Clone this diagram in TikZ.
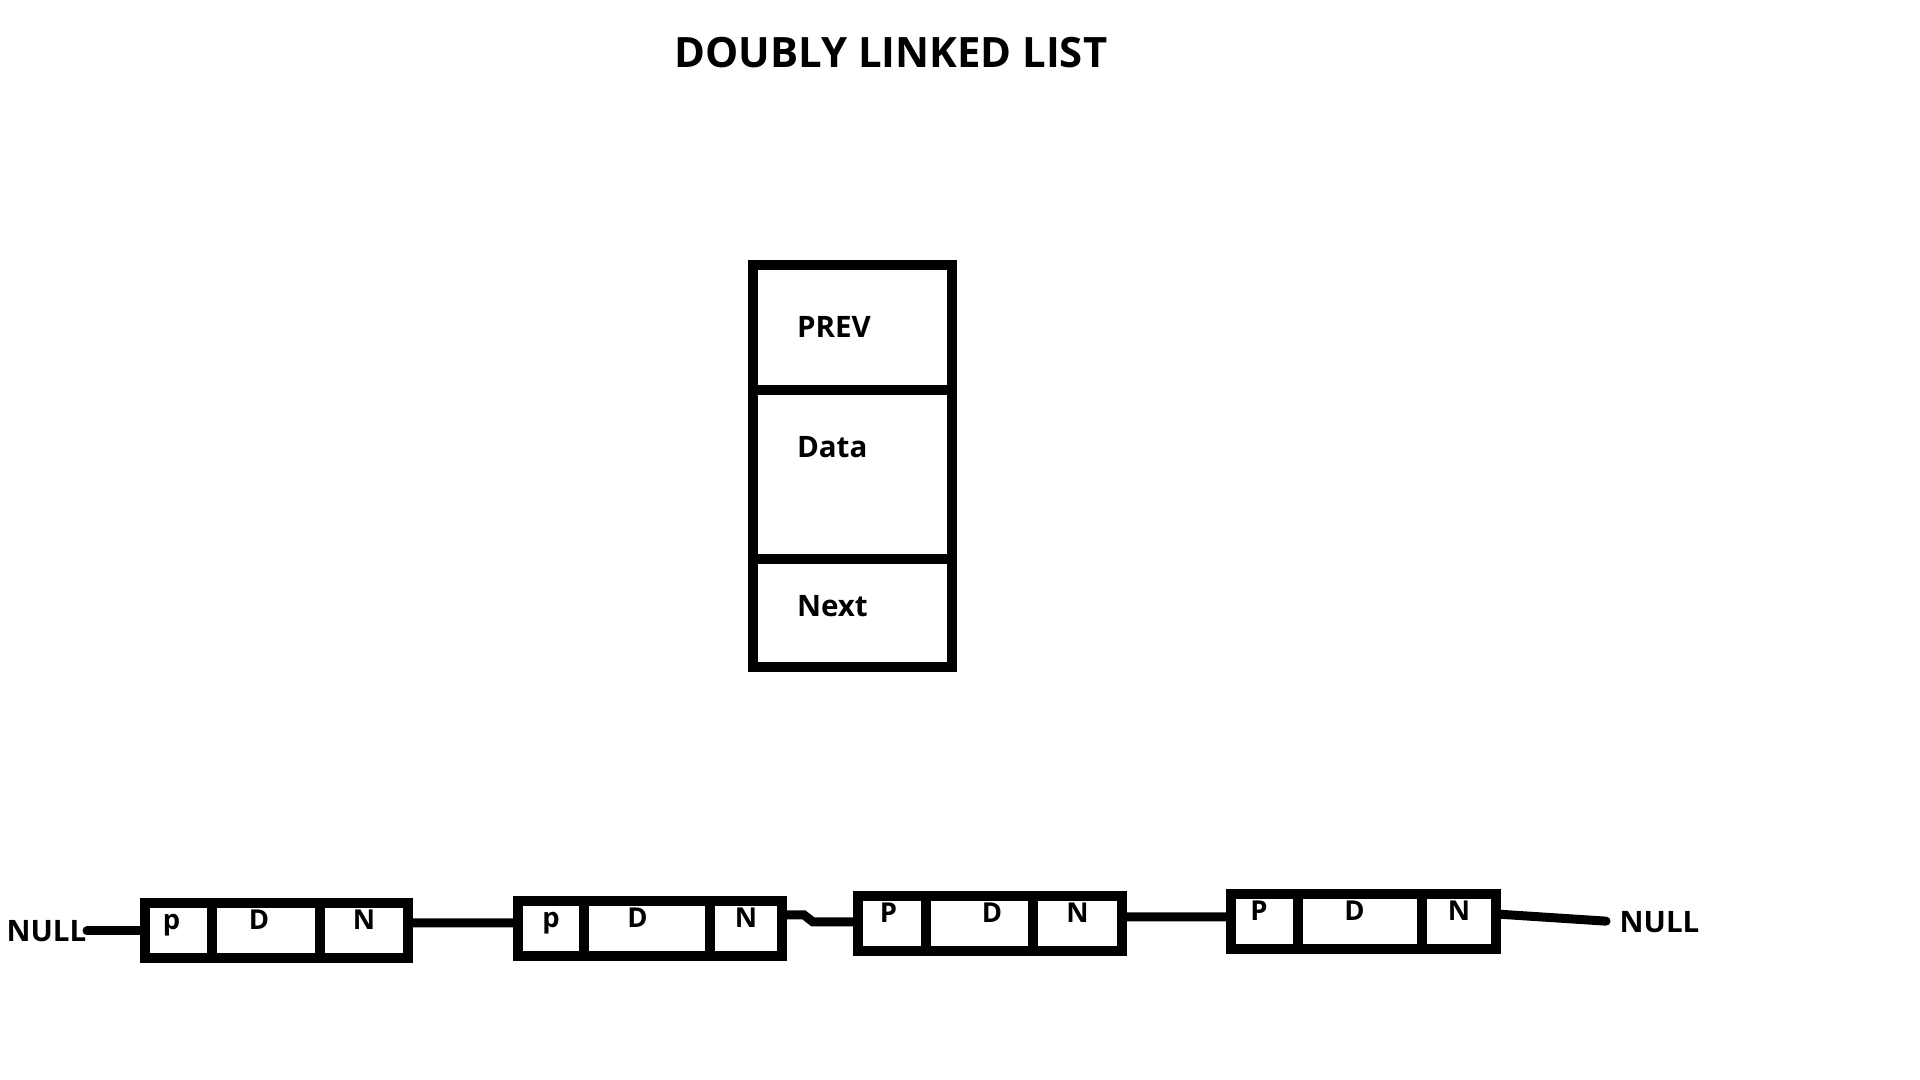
\documentclass[tikz,border=0pt]{standalone}
\usepackage{fontspec}
\setmainfont{Open Sans}
\usetikzlibrary{positioning}

\tikzset{
  cell/.style={draw, line width=0.1cm, outer sep=0pt, inner sep=0pt, minimum height=0.55cm, text height=0.2cm, text depth=0.22cm, font=\fontsize{7.8}{8}\selectfont\bfseries},
  field/.style={draw, line width=0.1cm, outer sep=0pt, inner xsep=0.44cm, inner ysep=0pt, text width=1.11cm, minimum width=1.99cm, text height=0.21cm, text depth=0pt, align=left, font=\fontsize{8.4}{9}\selectfont\bfseries},
  null/.style={inner sep=0pt, text height=0.21cm, text depth=0pt, font=\fontsize{8.4}{9}\selectfont\bfseries},
  link/.style={line width=0.09cm, line cap=round}
}

\begin{document}
\begin{tikzpicture}[node distance=0pt]
            \useasboundingbox (0,0) rectangle (19.2,10.8);
            \node[font=\fontsize{11.9}{14}\selectfont\bfseries, anchor=base] (title) at (8.91,10.12) {DOUBLY LINKED LIST};

            \node[field, minimum height=1.25cm] (prev) at (8.525,7.525) {PREV};
            \node[field, minimum height=1.69cm, text depth=0.54cm] (data) [below=of prev] {Data};
            \node[field, minimum height=1.08cm, text depth=0.13cm] (next) [below=of data] {Next};

            \node[cell, minimum width=0.67cm] (n1p) at (1.785,1.49) {\hspace*{-0.14cm}p};
            \node[cell, minimum width=1.08cm] (n1d) [right=of n1p] {\hspace*{-0.14cm}D};
            \node[cell, minimum width=0.88cm] (n1n) [right=of n1d] {N};

            \node[cell, minimum width=0.66cm, yshift=0.025cm] (n2p) [right=1.1cm of n1n] {p};
            \node[cell, minimum width=1.26cm] (n2d) [right=of n2p] {\hspace*{-0.19cm}D};
            \node[cell, minimum width=0.72cm] (n2n) [right=of n2d] {N};

            \node[cell, minimum width=0.68cm, yshift=0.045cm] (n3p) [right=0.76cm of n2n] {\hspace*{-0.07cm}P};
            \node[cell, minimum width=1.07cm] (n3d) [right=of n3p] {\hspace*{0.25cm}D};
            \node[cell, minimum width=0.89cm] (n3n) [right=of n3d] {N};

            \node[cell, minimum width=0.67cm, yshift=0.02cm] (n4p) [right=1.09cm of n3n] {\hspace*{-0.11cm}P};
            \node[cell, minimum width=1.24cm] (n4d) [right=of n4p] {\hspace*{-0.11cm}D};
            \node[cell, minimum width=0.74cm] (n4n) [right=of n4d] {N};

            \node[null] (nullL) [left=0.58cm of n1p] {NULL};
            \node[null] (nullR) [right=1.23cm of n4n] {NULL};

            \path[link]
            (nullL.east) edge (n1p.west)
            ([yshift=0.08cm]n1n.east) edge ([yshift=0.055cm]n2p.west)
            ([yshift=0.07cm]n3n.east) edge ([yshift=0.05cm]n4p.west)
            ([yshift=0.08cm]n4n.east) edge [shorten >=0.13cm] (nullR.west);
            \draw[link] ([yshift=0.135cm]n2n.east) -- ++(0.22,0) -- ([xshift=-0.45cm,yshift=0.02cm]n3p.west) -- ([yshift=0.02cm]n3p.west);
\end{tikzpicture}
\end{document}
